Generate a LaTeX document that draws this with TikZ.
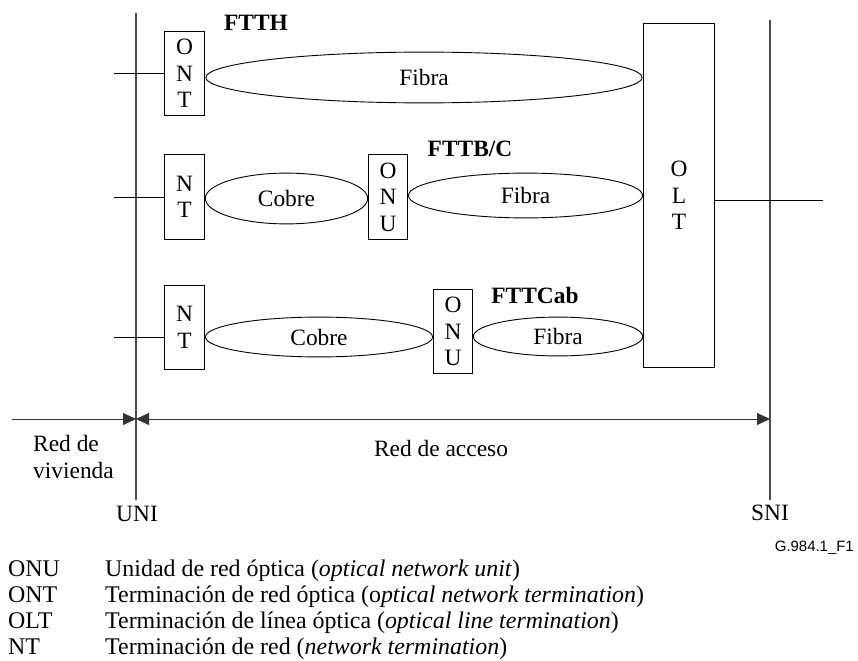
\documentclass[tikz,border=0pt]{standalone}
\usepackage{fontspec}
\setmainfont{Liberation Serif}
\newfontfamily\arialfont{Liberation Sans}
\usetikzlibrary{shapes.geometric,arrows.meta}
\begin{document}
\begin{tikzpicture}[x=1bp,y=-1bp,
  every node/.style={font=\fontsize{23.5}{26.5}\selectfont, inner sep=0pt},
  box/.style={draw, line width=0.9bp, align=center},
  ell/.style={draw, ellipse, line width=0.9bp},
  lbl/.style={font=\fontsize{23.5}{26.5}\selectfont\bfseries},
  ref/.style={draw=black!70, line width=1.1bp},
  wire/.style={draw, line width=0.9bp},
  dim/.style={draw=black!80, line width=1bp},
  tip/.style={-{Triangle[length=13bp,width=12bp]}},
  leg/.style={anchor=base west, font=\fontsize{24}{26}\selectfont},
]
\useasboundingbox (0,0) rectangle (858,661);

% reference lines
\coordinate (uniT) at (136,13);
\coordinate (uniB) at (136,500);
\coordinate (sniT) at (770,20);
\coordinate (sniB) at (770,500);
\draw[ref] (uniT) -- (uniB);
\draw[ref] (sniT) -- (sniB);

% OLT
\node[box, minimum width=72, minimum height=345] (olt) at (679,195.5) {O\\L\\T};
\coordinate (oltE) at (823,200);
\draw[wire] (olt.east |- oltE) -- (oltE);

% FTTH row
\node[box, minimum width=41, minimum height=85] (ont) at (184.5,73.5) {O\\N\\T};
\node[lbl] (ftth) at (256,23) {FTTH};
\node[ell, minimum width=438, minimum height=51] (fib1) at (424,77.5) {Fibra};
\coordinate (in1) at (114,73);
\draw[wire] (in1) -- (in1 -| ont.west);

% FTTB/C row
\node[box, minimum width=41, minimum height=86] (nt2) at (184.5,197) {N\\T};
\node[ell, minimum width=163, minimum height=51] (cob2) at (286.5,198.5) {Cobre};
\node[box, minimum width=40, minimum height=86] (onu2) at (388,197) {O\\N\\U};
\node[lbl] (fttb) at (470,149) {FTTB/C};
\node[ell, minimum width=235, minimum height=45] (fib2) at (525.5,195.5) {Fibra};
\coordinate (in2) at (114,197);
\draw[wire] (in2) -- (in2 -| nt2.west);

% FTTCab row
\node[box, minimum width=41, minimum height=85] (nt3) at (184.5,327.5) {N\\T};
\node[ell, minimum width=228, minimum height=40] (cob3) at (319,337) {Cobre};
\node[box, minimum width=40, minimum height=85] (onu3) at (453,331.5) {O\\N\\U};
\node[lbl] (fttcab) at (535,295) {FTTCab};
\node[ell, minimum width=170, minimum height=39] (fib3) at (558,336.5) {Fibra};
\coordinate (in3) at (114,337);
\draw[wire] (in3) -- (in3 -| nt3.west);

% dimension arrows
\coordinate (aL) at (12,419);
\coordinate (aM) at (136,419);
\coordinate (aR) at (770,419);
\draw[dim, tip] (aL) -- (aM);
\draw[dim, {Triangle[length=13bp,width=12bp]}-{Triangle[length=13bp,width=12bp]}] (aM) -- (aR);

\node[anchor=west, align=left] (redviv) at (33,457) {Red de\\vivienda};
\node (redacc) at (441,448) {Red de acceso};
\node (uni) at (137,514) {UNI};
\node (sni) at (770,513) {SNI};
\node[anchor=east, font=\fontsize{15}{17}\arialfont] (fig) at (854,548) {G.984.1\_F1};

% legend
\node[leg] (k1) at (8,576) {ONU};
\node[leg] (k2) at (8,602) {ONT};
\node[leg] (k3) at (8,628) {OLT};
\node[leg] (k4) at (8,654) {NT};
\node[leg] (d1) at (105,576) {Unidad de red óptica (\textit{optical network unit})};
\node[leg] (d2) at (105,602) {Terminación de red óptica (o\textit{ptical network termination})};
\node[leg] (d3) at (105,628) {Terminación de línea óptica (\textit{optical line termination})};
\node[leg] (d4) at (105,654) {Terminación de red (\textit{network termination})};
\end{tikzpicture}
\end{document}
